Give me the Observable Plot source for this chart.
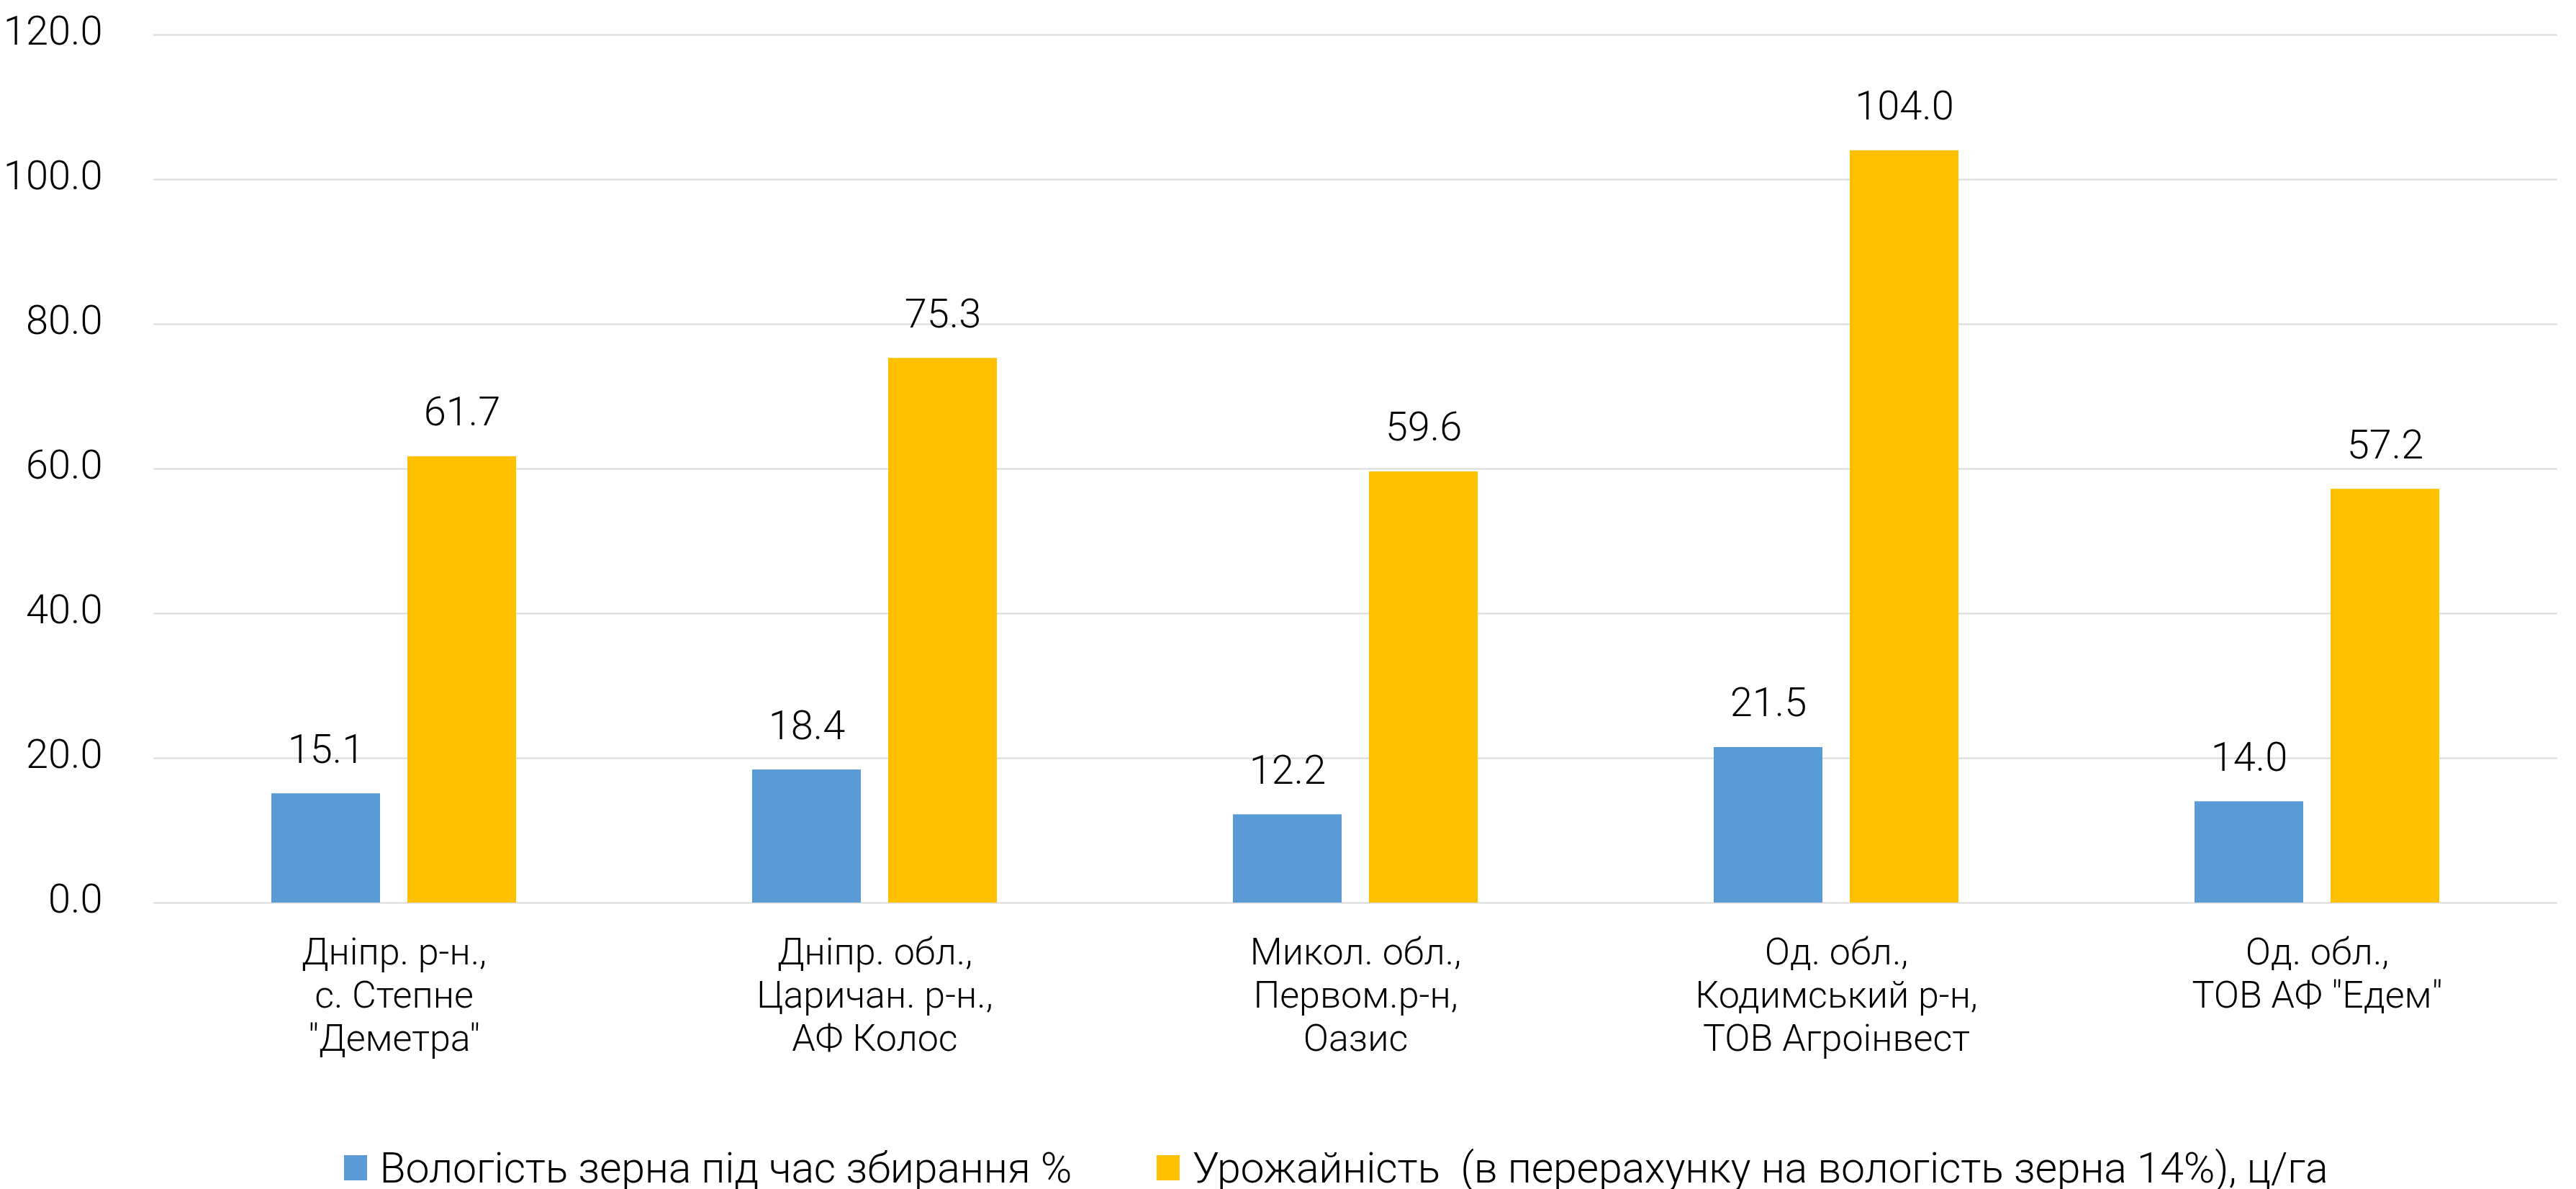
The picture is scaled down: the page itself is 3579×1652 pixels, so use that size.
<!DOCTYPE html>
<html>
<head>
<meta charset="utf-8">
<script src="https://cdn.jsdelivr.net/npm/d3@7"></script>
<script src="https://cdn.jsdelivr.net/npm/@observablehq/plot@0.6"></script>
<style>
  html, body { margin: 0; padding: 0; background: #fff; }
  #wrap { position: relative; width: 3579px; height: 1652px; font-family: Roboto, "Liberation Sans", sans-serif; font-weight: 300; color: #000; }
  #legend { position: absolute; left: 0; top: 1590px; width: 3579px; height: 64px; display: flex; justify-content: center; align-items: center; padding-left: 133px; box-sizing: border-box; font-size: 59px; letter-spacing: -0.2px; white-space: pre; }
  .item { display: flex; align-items: center; }
  .sw { width: 32px; height: 35px; margin-right: 18px; }
  .item + .item { margin-left: 118px; }
</style>
</head>
<body>
<div id="wrap">
  <div id="chart"></div>
  <div id="legend"></div>
</div>
<script>
const categories = [
  "Дніпр. р-н.,\nс. Степне\n\"Деметра\"",
  "Дніпр. обл.,\nЦаричан. р-н.,\nАФ Колос",
  "Микол. обл.,\nПервом.р-н,\nОазис",
  "Од. обл.,\nКодимський р-н,\nТОВ Агроінвест",
  "Од. обл.,\nТОВ АФ \"Едем\""
];
const seriesNames = [
  "Вологість зерна під час збирання %",
  "Урожайність  (в перерахунку на вологість зерна 14%), ц/га"
];
const moisture = [15.1, 18.4, 12.2, 21.5, 14.0];
const yieldValues = [61.7, 75.3, 59.6, 104.0, 57.2];
const yTicks = [0, 20, 40, 60, 80, 100, 120];
const colors = ["#5B9BD5", "#FFC000"];

const data = categories.flatMap((c, i) => [
  {category: c, series: seriesNames[0], value: moisture[i]},
  {category: c, series: seriesNames[1], value: yieldValues[i]}
]);

const fontFamily = 'Roboto, "Liberation Sans", sans-serif';

const chart = Plot.plot({
  width: 3579,
  height: 1520,
  marginLeft: 212,
  marginRight: 26,
  marginTop: 48,
  marginBottom: 266,
  style: {fontFamily, fontWeight: 300, background: "white", color: "black", overflow: "visible"},
  fx: {domain: categories, padding: 0, label: null},
  x: {domain: seriesNames, paddingInner: 0.2, paddingOuter: 0.86, axis: null},
  y: {domain: [0, 120], label: null},
  color: {domain: seriesNames, range: colors},
  marks: [
    Plot.gridY(yTicks, {stroke: "#d9d9d9", strokeOpacity: 1, strokeWidth: 2}),
    Plot.barY(data, {fx: "category", x: "series", y: "value", fill: "series"}),
    Plot.text(data, {fx: "category", x: "series", y: "value", text: d => d.value.toFixed(1), lineAnchor: "middle", dy: -61, fontSize: 56, fill: "black"}),
    Plot.axisY(yTicks, {tickFormat: d => d.toFixed(1), tickSize: 0, tickPadding: 71, fontSize: 56, dy: -4, label: null, fill: "black"}),
    Plot.axisFx({anchor: "bottom", tickSize: 0, tickPadding: 43, fontSize: 52, lineHeight: 1.15, label: null, fill: "black"})
  ]
});
document.getElementById("chart").appendChild(chart);

const legend = document.getElementById("legend");
seriesNames.forEach((name, i) => {
  const item = document.createElement("div");
  item.className = "item";
  const sw = document.createElement("div");
  sw.className = "sw";
  sw.style.background = colors[i];
  const label = document.createElement("span");
  label.textContent = name;
  item.appendChild(sw);
  item.appendChild(label);
  legend.appendChild(item);
});
</script>
</body>
</html>
